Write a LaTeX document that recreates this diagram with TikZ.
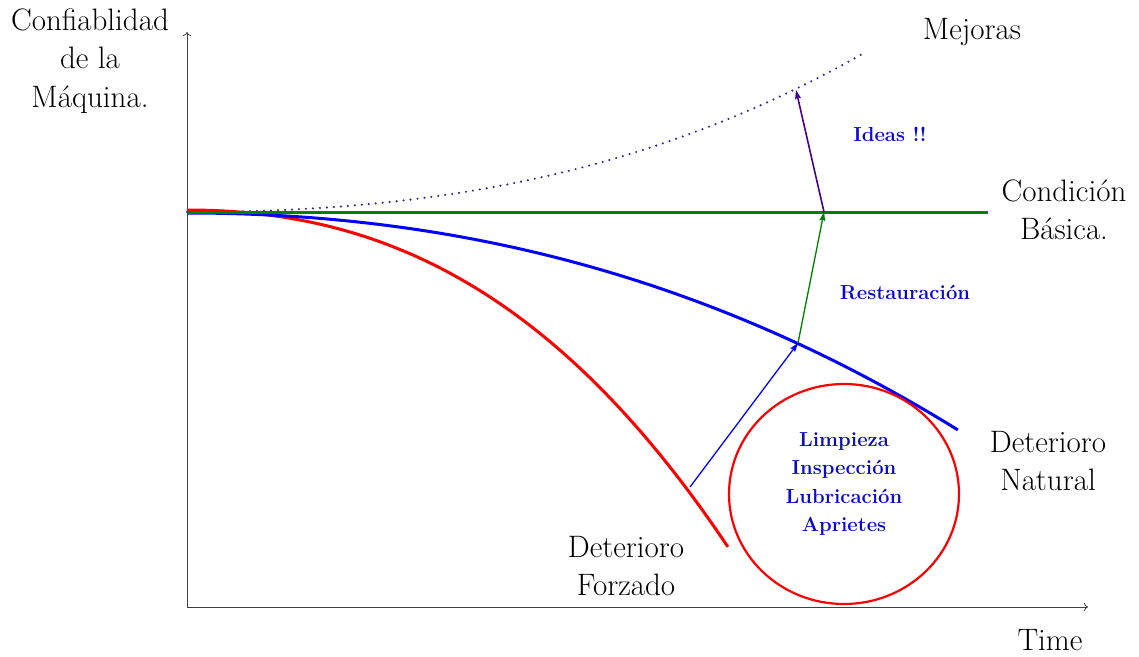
\documentclass[tikz,border=0pt]{standalone}
\usepackage{fontspec}
\usetikzlibrary{arrows.meta,shapes.geometric}
\definecolor{ideacol}{RGB}{75,0,140}
\definecolor{dotcol}{RGB}{60,40,140}
\definecolor{gcol}{RGB}{0,128,0}
\definecolor{lblue}{RGB}{10,10,200}
\tikzset{
  axis/.style={draw=black!75, line width=0.8pt, -{To[length=4pt,width=8pt]}},
  curve/.style={line width=3pt, line join=round},
  thinarrow/.style={line width=1.3pt, -{Stealth[length=9pt,width=6pt,inset=1.5pt]}},
  biglabel/.style={font=\fontsize{31}{38.5}\selectfont, align=center, text=black},
  smalllabel/.style={font=\fontsize{20.3}{28.5}\selectfont\bfseries, align=center, text=lblue},
}
\begin{document}
\begin{tikzpicture}[x=1pt,y=-1pt]
\useasboundingbox (0,0) rectangle (1139,656);
% axes
\coordinate (O) at (187,607);
\coordinate (Ytop) at (187,32);
\coordinate (Xend) at (1088,607);
\draw[axis] (O) -- (Ytop);
\draw[axis] (O) -- (Xend);
% key points
\coordinate (start) at (187,212);
\coordinate (gend) at (988,212);
\coordinate (R) at (690,487);
\coordinate (B) at (798,343);
\coordinate (G) at (824,212);
\coordinate (P) at (796,90);
% dotted improvements
\draw[dotcol, line width=2.4pt, dash pattern=on 0pt off 7pt, line cap=round]
  plot[domain=0:6.77, samples=80] ({187+100*\x}, {212 - 1.993*\x*\x - 0.218*\x*\x*\x});
% red curve
\draw[curve, red]
  plot[domain=0:5.41, samples=80] ({187+100*\x}, {210 + 6.88*\x*\x + 0.857*\x*\x*\x});
% blue curve
\draw[curve, blue]
  plot[domain=0:7.71, samples=80] ({187+100*\x}, {213 + 2.918*\x*\x + 0.095*\x*\x*\x});
% green line
\draw[curve, gcol] (start) -- (gend);
% circle
\node[draw=red, line width=2.2pt, ellipse, minimum width=230pt, minimum height=220pt, inner sep=0pt] (circ) at (844,494) {};
% arrows
\draw[thinarrow, blue] (R) -- (B);
\draw[thinarrow, gcol] (B) -- (G);
\draw[thinarrow, ideacol, line width=1.6pt] (G) -- (P);
% labels
\node[biglabel] (conf) at (90,61) {Confiablidad\\de la\\Máquina.};
\node[biglabel] (mej) at (972,32) {Mejoras};
\node[biglabel] (cond) at (1064,210) {Condición\\Básica.};
\node[biglabel] (nat) at (1048,461) {Deterioro\\Natural};
\node[biglabel] (forz) at (626,566) {Deterioro\\Forzado};
\node[biglabel] (time) at (1050,640) {Time};
\node[smalllabel] (ideas) at (890,134) {Ideas !!};
\node[smalllabel] (rest) at (905,292) {Restauración};
\node[smalllabel] (tareas) at (844,484) {Limpieza\\Inspección\\Lubricación\\Aprietes};
\end{tikzpicture}
\end{document}
